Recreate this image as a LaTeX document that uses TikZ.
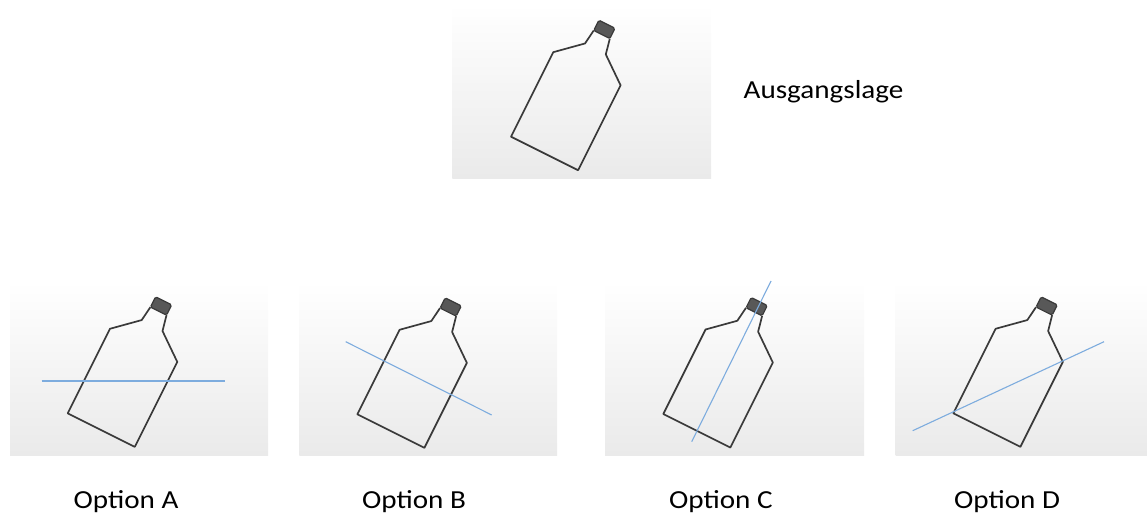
\documentclass[tikz,border=0pt]{standalone}
\usepackage{fontspec}
\newfontfamily\labelfont{Carlito}[FakeStretch=1.12]
\definecolor{outline}{RGB}{58,58,58}
\definecolor{capgray}{RGB}{88,88,88}
\definecolor{axisblue}{RGB}{125,172,222}
\definecolor{panelbottom}{RGB}{234,234,234}
\tikzset{
  panel/.style={top color=white, bottom color=panelbottom, draw=none},
  bottleline/.style={draw=outline, line width=1.7pt, line join=round},
  capshape/.style={draw=outline, fill=capgray, line width=1.2pt, rounded corners=1.5pt},
  axisline/.style={draw=axisblue, line width=1.1pt},
  lbl/.style={font=\labelfont\fontsize{26}{30}\selectfont, inner sep=0pt, anchor=base west},
  tilted/.style={x=1pt, y=1pt, rotate=-26.565},
  bottle/.pic={
    % body outline, open at the top where the cap sits
    \draw[bottleline] (26.5,132) -- (24.5,116.5) -- (0,94.5) -- (0,0)
      -- (75,0) -- (75,95) -- (48,116) -- (44.5,132);
    % screw cap
    \draw[capshape] (26.5,132) -- (26.5,143.5) -- (44.5,143.5) -- (44.5,132) -- cycle;
  }
}
\begin{document}
\begin{tikzpicture}[x=1pt, y=-1pt]
\useasboundingbox (0,0) rectangle (1147,516);

% backgrounds
\shade[panel] (452.3,4) rectangle (711,178);
\shade[panel] (10,281) rectangle (268,455);
\shade[panel] (299.3,281) rectangle (557,455);
\shade[panel] (605,281) rectangle (864,455);
\shade[panel] (895.7,281) rectangle (1147,455);

% bottles, each placed by its bottom-left corner and tilted
\begin{scope}[shift={(511,136.7)}, tilted]
  \pic[transform shape] (start) {bottle};
\end{scope}
\begin{scope}[shift={(67.7,413.3)}, tilted]
  \pic[transform shape] (bA) {bottle};
\end{scope}
\begin{scope}[shift={(357.3,414.3)}, tilted]
  \pic[transform shape] (bB) {bottle};
\end{scope}
\begin{scope}[shift={(663.3,414)}, tilted]
  \pic[transform shape] (bC) {bottle};
\end{scope}
\begin{scope}[shift={(953.3,413.3)}, tilted]
  \pic[transform shape] (bD) {bottle};
\end{scope}

% candidate axes
\coordinate (a1) at (41.7,381);   \coordinate (a2) at (225,381);
\coordinate (b1) at (345.7,341.7); \coordinate (b2) at (491.7,415);
\coordinate (c1) at (771,281);    \coordinate (c2) at (691.7,441.7);
\coordinate (d1) at (912.7,430.7); \coordinate (d2) at (1104,341.7);
\draw[axisline] (a1) -- (a2);
\draw[axisline] (b1) -- (b2);
\draw[axisline] (c1) -- (c2);
\draw[axisline] (d1) -- (d2);

% labels
\node[lbl] (ausg) at (743.5,98.5) {Ausgangslage};
\node[lbl] (optA) at (73.5,508.5) {Option A};
\node[lbl] (optB) at (362,508.5) {Option B};
\node[lbl] (optC) at (669,508.5) {Option C};
\node[lbl] (optD) at (954,508.5) {Option D};
\end{tikzpicture}
\end{document}
